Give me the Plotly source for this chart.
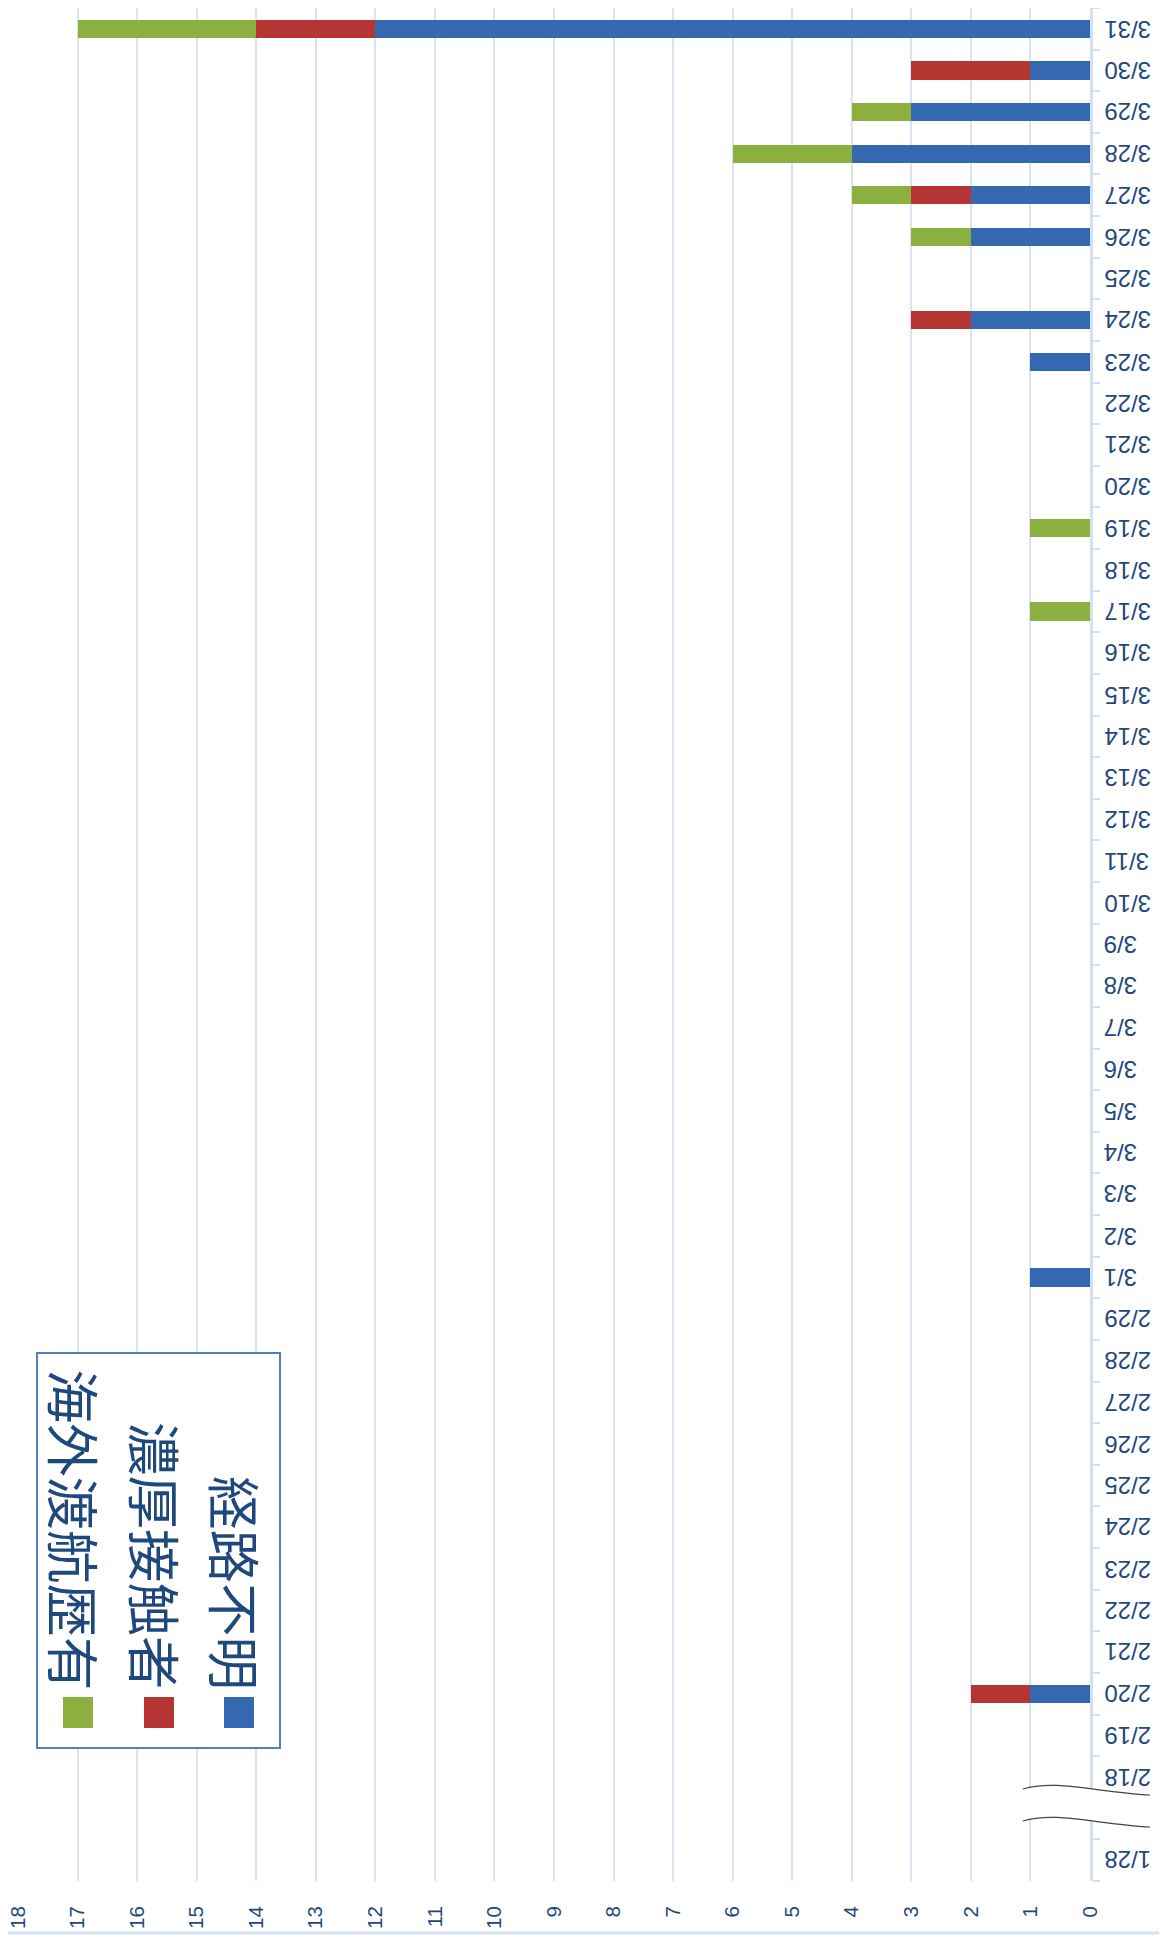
import plotly.graph_objects as go

# Categories from bottom to top (" " is the broken-axis gap slot)
categories = ["1/28", " ", "2/18", "2/19", "2/20", "2/21", "2/22", "2/23", "2/24",
              "2/25", "2/26", "2/27", "2/28", "2/29",
              "3/1", "3/2", "3/3", "3/4", "3/5", "3/6", "3/7", "3/8", "3/9", "3/10",
              "3/11", "3/12", "3/13", "3/14", "3/15", "3/16", "3/17", "3/18", "3/19", "3/20",
              "3/21", "3/22", "3/23", "3/24", "3/25", "3/26", "3/27", "3/28", "3/29", "3/30",
              "3/31"]

# 経路不明
unknown = [0, 0, 0, 0, 1, 0, 0, 0, 0, 0, 0, 0, 0, 0,
           1, 0, 0, 0, 0, 0, 0, 0, 0, 0,
           0, 0, 0, 0, 0, 0, 0, 0, 0, 0,
           0, 0, 1, 2, 0, 2, 2, 4, 3, 1,
           12]
# 濃厚接触者
contact = [0, 0, 0, 0, 1, 0, 0, 0, 0, 0, 0, 0, 0, 0,
           0, 0, 0, 0, 0, 0, 0, 0, 0, 0,
           0, 0, 0, 0, 0, 0, 0, 0, 0, 0,
           0, 0, 0, 1, 0, 0, 1, 0, 0, 2,
           2]
# 海外渡航歴有
overseas = [0, 0, 0, 0, 0, 0, 0, 0, 0, 0, 0, 0, 0, 0,
            0, 0, 0, 0, 0, 0, 0, 0, 0, 0,
            0, 0, 0, 0, 0, 0, 1, 0, 1, 0,
            0, 0, 0, 0, 0, 1, 1, 2, 1, 0,
            3]

series_names = ["経路不明", "濃厚接触者", "海外渡航歴有"]
series_colors = ["#3469b2", "#b53533", "#8cb03f"]
x_ticks = list(range(0, 19))

# the page body has an 8px margin, so the figure is laid out 8px smaller
OFF = 8
W, H = 1167 - OFF, 1939 - OFF
PLOT_L, PLOT_R, PLOT_T, PLOT_B = 18, 1090, 8, 1881   # in screen pixels
ML = PLOT_L - OFF
MT = PLOT_T - OFF
PW = PLOT_R - PLOT_L
PH = PLOT_B - PLOT_T
MR = W - ML - PW
MB = H - MT - PH


def px(x):
    return (x - PLOT_L) / PW


def py(y):
    return (PLOT_B - y) / PH


TEXT = "#1f497d"
GRID = "#d9e4f3"

fig = go.Figure()
for name, vals, col in zip(series_names, [unknown, contact, overseas], series_colors):
    fig.add_trace(go.Bar(
        y=categories, x=vals, name=name, orientation="h",
        marker=dict(color=col, line=dict(width=0)),
        showlegend=False,
    ))

shapes = []
# broken-axis white band and wavy lines
band = (f"M {px(1023)},{py(1789)} C {px(1055)},{py(1779)} {px(1095)},{py(1792)} {px(1150)},{py(1795)} "
        f"L {px(1150)},{py(1827)} C {px(1095)},{py(1824)} {px(1055)},{py(1811)} {px(1023)},{py(1821)} Z")
shapes.append(dict(type="path", xref="paper", yref="paper", path=band,
                   fillcolor="white", line=dict(width=0), layer="above"))
for y0 in (1789, 1821):
    d = y0 - 1789
    p = (f"M {px(1023)},{py(1789 + d)} C {px(1055)},{py(1779 + d)} "
         f"{px(1095)},{py(1792 + d)} {px(1150)},{py(1795 + d)}")
    shapes.append(dict(type="path", xref="paper", yref="paper", path=p,
                       line=dict(color="#444444", width=1.2), layer="above"))
# bottom border line
shapes.append(dict(type="line", xref="paper", yref="paper",
                   x0=px(OFF), x1=px(1167), y0=py(1933), y1=py(1933),
                   line=dict(color="#d6e2f2", width=3)))
# legend box
shapes.append(dict(type="rect", xref="paper", yref="paper",
                   x0=px(37), x1=px(280), y0=py(1353), y1=py(1748),
                   fillcolor="white", line=dict(color="#4f81bd", width=2), layer="above"))

annotations = []
# category labels (upside down, left aligned next to the axis)
for cat in categories:
    if cat.strip() == "":
        continue
    annotations.append(dict(xref="paper", yref="y", x=px(1102), y=cat,
                            text=cat, showarrow=False, textangle=180,
                            xanchor="left", yanchor="middle",
                            font=dict(family="Liberation Sans", size=24, color=TEXT)))

legend_cols = [(75, 63), (157, 144), (237, 224)]
legend_order = [("海外渡航歴有", "#8cb03f"), ("濃厚接触者", "#b53533"), ("経路不明", "#3469b2")]
for (cx, mx), (label, col) in zip(legend_cols, legend_order):
    shapes.append(dict(type="rect", xref="paper", yref="paper",
                       x0=px(mx), x1=px(mx + 30), y0=py(1697), y1=py(1728),
                       fillcolor=col, line=dict(width=0), layer="above"))
    annotations.append(dict(xref="paper", yref="paper", x=px(cx), y=py(1692),
                            text=label, showarrow=False, textangle=90,
                            xanchor="center", yanchor="bottom",
                            font=dict(family="Noto Sans CJK JP", size=53.5, color=TEXT)))

fig.update_layout(
    width=W, height=H,
    margin=dict(l=ML, r=MR, t=MT, b=MB, pad=0),
    paper_bgcolor="white", plot_bgcolor="white",
    barmode="stack", bargap=0.56,
    font=dict(family="Liberation Sans", color=TEXT, size=22),
    xaxis=dict(range=[18, 0], tickmode="array", tickvals=x_ticks,
               ticktext=[str(v) for v in x_ticks],
               showgrid=True, gridcolor=GRID, gridwidth=2,
               zeroline=False, showline=False, ticks="",
               tickangle=-90, ticklabelstandoff=20, automargin=False,
               ticklabeloverflow="allow",
               tickfont=dict(size=20.5, color=TEXT)),
    yaxis=dict(side="right", type="category", categoryorder="array",
               categoryarray=categories, showgrid=False,
               showline=True, linecolor="#d4e0f1", linewidth=3,
               ticks="outside", ticklen=7, tickwidth=2, tickcolor="#d4e0f1",
               tickson="boundaries", showticklabels=False, automargin=False),
    shapes=shapes, annotations=annotations,
)

fig.write_html("out.html")
